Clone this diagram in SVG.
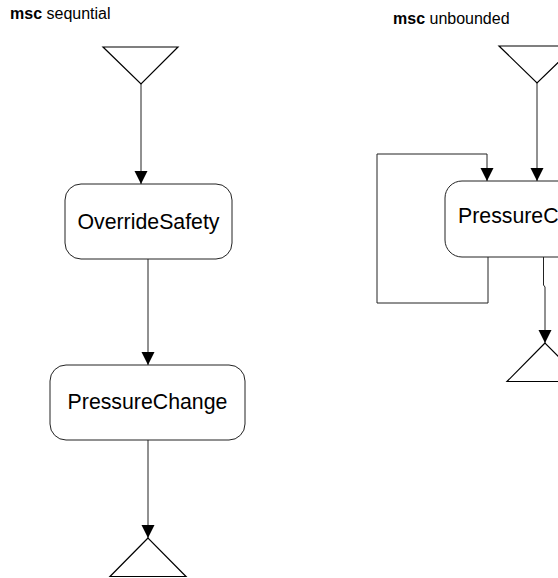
<svg xmlns="http://www.w3.org/2000/svg" width="558" height="578" viewBox="0 0 558 578">
  <style>
    .title { font-family: "Liberation Sans", Arial, sans-serif; font-size: 16px; fill: #000; }
    .title .kw { font-weight: bold; }
    .box { fill: #fff; stroke: #222; stroke-width: 1; }
    .label { font-family: "Liberation Sans", Arial, sans-serif; font-size: 21.3px; fill: #000; }
    .gate { fill: #fff; stroke: #000; stroke-width: 1.2; }
    .edge { fill: none; stroke: #222; stroke-width: 1; }
  </style>
  <defs>
    <marker id="arrow" markerUnits="userSpaceOnUse" markerWidth="14" markerHeight="14" viewBox="0 0 14 14" refX="13" refY="7" orient="auto">
      <path d="M0,0.5 L13,7 L0,13.5 Z" fill="#000"/>
    </marker>
  </defs>
  <rect width="558" height="578" fill="#fff"/>

  <!-- left chart: sequential -->
  <text class="title" x="10" y="19"><tspan class="kw">msc</tspan> sequntial</text>
  <g id="seq-start"><polygon class="gate" points="103,47 178,47 141,84"/></g>
  <g id="seq-override">
    <rect class="box" x="65" y="184" width="167" height="75" rx="16" ry="16"/>
    <text class="label" x="148.5" y="229" text-anchor="middle">OverrideSafety</text>
  </g>
  <g id="seq-pressure">
    <rect class="box" x="50" y="365" width="195" height="75" rx="16" ry="16"/>
    <text class="label" x="147.5" y="409" text-anchor="middle">PressureChange</text>
  </g>
  <g id="seq-end"><polygon class="gate" points="148,538 110,576.5 186,576.5"/></g>

  <!-- right chart: unbounded -->
  <text class="title" x="393" y="24"><tspan class="kw">msc</tspan> unbounded</text>
  <g id="unb-start"><polygon class="gate" points="499,46 575,46 537,83"/></g>
  <g id="unb-pressure">
    <rect class="box" x="445" y="181" width="190" height="76" rx="17" ry="17"/>
    <text class="label" x="458" y="223">PressureChange</text>
  </g>
  <g id="unb-end"><polygon class="gate" points="545,343 507,381.5 583,381.5"/></g>

  <g id="connectors">
    <line class="edge" x1="141" y1="84" x2="141" y2="184" marker-end="url(#arrow)"/>
    <line class="edge" x1="148" y1="259" x2="148" y2="365" marker-end="url(#arrow)"/>
    <line class="edge" x1="148" y1="440" x2="148" y2="538" marker-end="url(#arrow)"/>
    <line class="edge" x1="537" y1="83" x2="537" y2="181" marker-end="url(#arrow)"/>
    <polyline class="edge" points="488,257 488,303 377,303 377,154 487,154 487,181" marker-end="url(#arrow)"/>
    <polyline class="edge" points="543.5,257 543.5,285 545,287 545,343" marker-end="url(#arrow)"/>
  </g>
</svg>
